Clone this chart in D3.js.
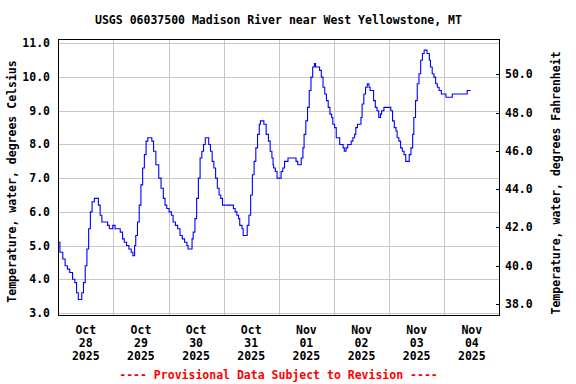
<!DOCTYPE html>
<html>
<head>
<meta charset="utf-8">
<script src="https://cdn.jsdelivr.net/npm/d3@7"></script>
<style>
  body { margin: 0; background: #fff; }
  text { font-family: "DejaVu Sans Mono", "Liberation Mono", monospace; font-weight: bold; font-size: 11.5px; }
</style>
</head>
<body>
<div id="chart"></div>
<script>
const width = 576;
const height = 384;

const title = "USGS 06037500 Madison River near West Yellowstone, MT";
const footer = "---- Provisional Data Subject to Revision ----";
const leftLabel = "Temperature, water, degrees Celsius";
const rightLabel = "Temperature, water, degrees Fahrenheit";

// hours since Oct 28 2025 00:00, water temperature in deg C
const hours = [0, 0.75, 2, 3, 4, 5, 6.25, 7.25, 8, 8.75, 9.5, 10.25, 11, 11.75, 12.5, 13.25, 14, 14.75, 15.75, 16.75,
  17.5, 18.25, 19, 20.75, 21.5, 22.25, 23, 23.75, 24.5, 24.75, 26, 27, 28, 28.75, 29.75, 30.75, 31.75, 32.5, 33.25, 33.75,
  34.5, 35.25, 36, 36.75, 37.5, 38.25, 39, 40, 40.75, 41.5, 42.5, 43.75, 44.75, 45.75, 46.5, 47.25, 48.25, 49.25, 50, 51,
  52, 53, 54, 55, 56, 56.5, 57.75, 58.25, 58.75, 59.5, 60.25, 61, 61.75, 62.5, 63.25, 64, 65, 65.5, 66.25, 67,
  67.75, 68.5, 69.25, 70, 70.75, 71.5, 75.5, 76.25, 77, 77.75, 78.5, 79, 80, 80.5, 81.5, 82.25, 83, 83.75, 84.5, 85.25,
  86, 86.75, 87.5, 88, 88.75, 89.5, 90.5, 91.5, 92.25, 93, 93.5, 93.75, 94.5, 95.25, 96.5, 97, 97.75, 98.5, 99.25, 100,
  103.25, 103.5, 104.25, 105, 105.75, 106.5, 107, 107.75, 108.5, 109.25, 110, 110.75, 111.5, 112, 113, 113.75, 114.5, 115.25, 116, 116.75,
  117.5, 118.25, 119, 119.5, 120.25, 121, 121.75, 122.5, 123.25, 124, 124.5, 125.25, 126, 126.75, 127.5, 128.25, 129, 129.5, 130.25, 131,
  131.75, 132.25, 133, 133.75, 134.5, 135.25, 135.75, 136.5, 137.25, 138, 138.75, 139.5, 140.25, 140.75, 141.75, 144, 144.75, 145.5, 146.25, 147,
  147.5, 148.25, 149, 149.75, 150.5, 151.25, 152, 152.75, 153.5, 154.25, 154.75, 155.5, 156.25, 157, 157.75, 158.5, 159.25, 160, 160.5, 161.5,
  162, 162.75, 163.5, 164.25, 165, 165.75, 166.75, 168.75, 171.5, 178, 179.5];
const tempC = [5.1, 4.8, 4.6, 4.4, 4.3, 4.2, 4.0, 3.9, 3.6, 3.4, 3.4, 3.6, 3.9, 4.4, 4.9, 5.5, 6.0, 6.3, 6.4, 6.4,
  6.2, 5.9, 5.7, 5.7, 5.6, 5.5, 5.5, 5.6, 5.6, 5.5, 5.5, 5.4, 5.2, 5.1, 5.0, 4.9, 4.8, 4.7, 5.0, 5.3,
  5.7, 6.2, 6.8, 7.3, 7.7, 8.1, 8.2, 8.2, 8.1, 7.8, 7.4, 7.0, 6.7, 6.4, 6.2, 6.1, 6.0, 5.9, 5.7, 5.6,
  5.5, 5.3, 5.2, 5.1, 5.0, 4.9, 4.9, 5.2, 5.4, 5.8, 6.4, 7.0, 7.6, 7.8, 8.0, 8.2, 8.2, 8.0, 7.8, 7.5,
  7.3, 7.0, 6.7, 6.5, 6.4, 6.2, 6.2, 6.1, 6.0, 5.9, 5.8, 5.6, 5.5, 5.3, 5.3, 5.6, 5.9, 6.5, 7.1, 7.5,
  7.9, 8.3, 8.6, 8.7, 8.7, 8.6, 8.3, 8.1, 7.8, 7.6, 7.4, 7.3, 7.2, 7.0, 7.0, 7.2, 7.3, 7.5, 7.5, 7.6,
  7.6, 7.5, 7.4, 7.4, 7.6, 7.9, 8.3, 8.7, 9.1, 9.6, 10.0, 10.3, 10.4, 10.3, 10.3, 10.2, 10.0, 9.7, 9.5, 9.3,
  9.1, 8.9, 8.8, 8.6, 8.5, 8.2, 8.2, 8.0, 8.0, 7.9, 7.8, 7.9, 8.0, 8.0, 8.1, 8.2, 8.3, 8.5, 8.6, 8.6,
  8.8, 9.2, 9.5, 9.7, 9.8, 9.7, 9.6, 9.6, 9.3, 9.1, 9.0, 8.8, 8.9, 9.0, 9.1, 9.1, 9.0, 8.7, 8.5, 8.4,
  8.2, 8.1, 7.9, 7.8, 7.7, 7.5, 7.5, 7.7, 7.9, 8.3, 8.8, 9.3, 9.8, 10.1, 10.5, 10.7, 10.8, 10.8, 10.7, 10.5,
  10.3, 10.1, 10.0, 9.8, 9.7, 9.6, 9.5, 9.4, 9.5, 9.6, 9.6];

const celsiusTicks = [3, 4, 5, 6, 7, 8, 9, 10, 11];
const fahrenheitTicks = [38, 40, 42, 44, 46, 48, 50];

const start = new Date(2025, 9, 28);
const end = new Date(2025, 10, 5);
const data = hours.map((h, i) => ({date: new Date(start.getTime() + h * 3600e3), value: tempC[i]}));

const plot = {left: 58, right: 499, top: 39, bottom: 316};

const svg = d3.select("#chart")
    .append("svg")
    .attr("width", width)
    .attr("height", height);

let x = d3.scaleTime().domain([start, end]).range([58.2, 499.4]);
let y = d3.scaleLinear().domain([2.91, 11.13]).range([plot.bottom, plot.top]);
let yF = d3.scaleLinear().domain([37.37, 51.84]).range([plot.bottom, plot.top]);

const crisp = v => Math.round(v) + 0.5;

// grid
const days = d3.timeDay.range(d3.timeDay.offset(start, 1), end);
svg.append("g")
    .selectAll("line")
    .data(days)
    .join("line")
    .attr("x1", d => crisp(x(d)))
    .attr("x2", d => crisp(x(d)))
    .attr("y1", plot.top)
    .attr("y2", plot.bottom)
    .attr("stroke", "#c8c8c8")
    .attr("shape-rendering", "crispEdges");

svg.append("g")
    .selectAll("line")
    .data(celsiusTicks)
    .join("line")
    .attr("x1", plot.left)
    .attr("x2", plot.right)
    .attr("y1", d => crisp(y(d)))
    .attr("y2", d => crisp(y(d)))
    .attr("stroke", "#c8c8c8")
    .attr("shape-rendering", "crispEdges");

// data line
const line = d3.line()
    .x(d => x(d.date))
    .y(d => y(d.value))
    .curve(d3.curveStepAfter);

svg.append("path")
    .datum(data)
    .attr("d", line)
    .attr("fill", "none")
    .attr("stroke", "#0000ff")
    .attr("stroke-width", 1.1);

// frame
svg.append("rect")
    .attr("x", plot.left + 0.5)
    .attr("y", plot.top + 0.5)
    .attr("width", plot.right - plot.left)
    .attr("height", plot.bottom - plot.top - 1)
    .attr("fill", "none")
    .attr("stroke", "#000")
    .attr("shape-rendering", "crispEdges");

// right ticks (inward)
svg.append("g")
    .selectAll("line")
    .data(fahrenheitTicks)
    .join("line")
    .attr("x1", plot.right - 3)
    .attr("x2", plot.right)
    .attr("y1", d => crisp(yF(d)))
    .attr("y2", d => crisp(yF(d)))
    .attr("stroke", "#000")
    .attr("shape-rendering", "crispEdges");

// tick labels
svg.append("g")
    .selectAll("text")
    .data(celsiusTicks)
    .join("text")
    .attr("x", 50)
    .attr("y", d => y(d) + 4)
    .attr("text-anchor", "end")
    .text(d => d3.format(".1f")(d));

svg.append("g")
    .selectAll("text")
    .data(fahrenheitTicks)
    .join("text")
    .attr("x", 505)
    .attr("y", d => yF(d) + 4)
    .text(d => d3.format(".1f")(d));

const noons = days.concat([start]).map(d => d3.timeHour.offset(d, 12)).sort((a, b) => a - b);
const dateLabels = svg.append("g")
    .selectAll("text")
    .data(noons)
    .join("text")
    .attr("text-anchor", "middle")
    .attr("x", d => x(d));
dateLabels.append("tspan").attr("x", d => x(d)).attr("y", 334).text(d3.timeFormat("%b"));
dateLabels.append("tspan").attr("x", d => x(d)).attr("y", 347).text(d3.timeFormat("%d"));
dateLabels.append("tspan").attr("x", d => x(d)).attr("y", 360).text(d3.timeFormat("%Y"));

// titles
svg.append("text")
    .attr("x", (plot.left + plot.right) / 2)
    .attr("y", 24)
    .attr("text-anchor", "middle")
    .text(title);

svg.append("text")
    .attr("x", (plot.left + plot.right) / 2)
    .attr("y", 379)
    .attr("text-anchor", "middle")
    .attr("fill", "#ff0000")
    .text(footer);

svg.append("text")
    .attr("transform", "translate(16,181.5) rotate(-90)")
    .attr("text-anchor", "middle")
    .text(leftLabel);

svg.append("text")
    .attr("transform", "translate(560,183) rotate(-90)")
    .attr("text-anchor", "middle")
    .text(rightLabel);
</script>
</body>
</html>
